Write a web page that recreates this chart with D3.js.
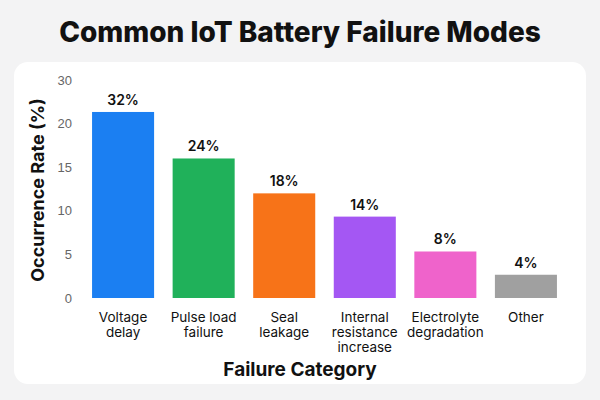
<!DOCTYPE html>
<html><head><meta charset="utf-8">
<script src="https://cdn.jsdelivr.net/npm/d3@7"></script>
<style>body{margin:0;background:#fff;font-family:Inter,"Noto Sans",sans-serif}</style>
</head><body><svg id="c" width="600" height="400"></svg>
<script>
const categories = [["Voltage","delay"],["Pulse load","failure"],["Seal","leakage"],["Internal","resistance","increase"],["Electrolyte","degradation"],["Other"]];
const values = [32, 24, 18, 14, 8, 4];
const colors = ["#1b7ff2","#20b15a","#f77318","#a457f3","#ef63cb","#a0a0a0"];
const tickLabels = ["0","5","10","15","20","30"];

const svg = d3.select("#c");
svg.append("rect").attr("x",0).attr("y",0).attr("width",600).attr("height",400).attr("fill","#f3f3f4");
svg.append("rect").attr("x",14).attr("y",62).attr("width",572).attr("height",322).attr("rx",14).attr("fill","#fff");
svg.append("text").attr("x",300).attr("y",42).attr("text-anchor","middle")
  .attr("font-size",28).attr("font-weight",800).attr("fill","#111").text("Common IoT Battery Failure Modes");

const x = d3.scaleBand().domain(d3.range(values.length)).range([84,565]).paddingInner(0.23).paddingOuter(0.1);
const y = d3.scaleLinear().domain([0,37.5]).range([298,80]);
const tickY = d3.scalePoint().domain(tickLabels).range([298,80]);

const ax = svg.append("g").attr("transform","translate(80,0)").call(d3.axisLeft(tickY).tickSize(0).tickPadding(8));
ax.select(".domain").remove();
ax.selectAll("text").attr("font-size",13).attr("fill","#666");

svg.selectAll(".bar").data(values).join("rect")
  .attr("x",(d,i)=>x(i)).attr("y",d=>y(d)).attr("width",x.bandwidth()).attr("height",d=>298-y(d))
  .attr("fill",(d,i)=>colors[i]);
svg.selectAll(".lbl").data(values).join("text")
  .attr("x",(d,i)=>x(i)+x.bandwidth()/2).attr("y",d=>y(d)-7).attr("text-anchor","middle")
  .attr("font-size",14).attr("font-weight",600).attr("fill","#111").text(d=>d+"%");

const cat = svg.selectAll(".cat").data(categories).join("text")
  .attr("x",(d,i)=>x(i)+x.bandwidth()/2).attr("y",322).attr("text-anchor","middle")
  .attr("font-size",13.5).attr("fill","#111");
cat.selectAll("tspan").data(d=>d).join("tspan")
  .attr("x",function(){return this.parentNode.getAttribute("x");})
  .attr("dy",(d,i)=>i?15:0).text(d=>d);

svg.append("text").attr("x",300).attr("y",376).attr("text-anchor","middle")
  .attr("font-size",19).attr("font-weight",700).attr("fill","#111").text("Failure Category");
svg.append("text").attr("transform","translate(44,190) rotate(-90)").attr("text-anchor","middle")
  .attr("font-size",18).attr("font-weight",700).attr("fill","#111").text("Occurrence Rate (%)");
</script></body></html>
